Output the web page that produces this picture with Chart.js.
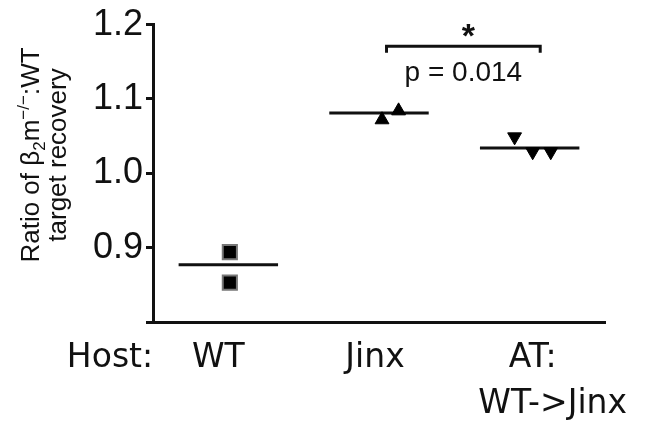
<!DOCTYPE html>
<html>
<head>
<meta charset="utf-8">
<script src="https://cdn.jsdelivr.net/npm/chart.js@4/dist/chart.umd.min.js"></script>
<style>
html, body { margin: 0; padding: 0; background: #fff; }
#wrap { width: 647px; height: 426px; }
</style>
</head>
<body>
<div id="wrap"><canvas id="chart"></canvas></div>
<script>
// data
var hostLabel = "Host:";
var categoryLabels = [["WT"], ["Jinx"], ["AT:", "WT->Jinx"]];
var categoryX = [1, 2, 3];

var wtX = [1.01, 1.01];
var wtValues = [0.894, 0.853];
var jinxX = [2.02, 2.13];
var jinxValues = [1.072, 1.084];
var atX = [2.9, 3.02, 3.14];
var atValues = [1.049, 1.029, 1.029];
var means = [0.877, 1.081, 1.034];

var yTicks = [0.8, 0.9, 1.0, 1.1, 1.2];
var titleParts = ["Ratio of \u03b2", "2", "m", "\u2212/\u2212", ":WT"];
var titleLine2 = "target recovery";

var bracketX = [2.05, 3.07];
var bracketY = [1.162, 1.171];
var starLabel = "*";
var pLabel = "p = 0.014";

var INK = "#111";
var meanHalf = 0.33;

function toPoints(xs, ys) {
    return xs.map(function (x, i) { return { x: x, y: ys[i] }; });
}

var meanSets = means.map(function (m, i) {
    return {
        type: "line",
        data: [{ x: categoryX[i] - meanHalf, y: m }, { x: categoryX[i] + meanHalf, y: m }],
        borderColor: INK,
        borderWidth: 3,
        pointRadius: 0,
        order: 2
    };
});

var bracketSet = {
    type: "line",
    data: [
        { x: bracketX[0], y: bracketY[0] },
        { x: bracketX[0], y: bracketY[1] },
        { x: bracketX[1], y: bracketY[1] },
        { x: bracketX[1], y: bracketY[0] }
    ],
    borderColor: INK,
    borderWidth: 3,
    pointRadius: 0
};

var textPlugin = {
    id: "figText",
    afterDraw: function (chart) {
        var ctx = chart.ctx;
        var xs = chart.scales.x;
        var ys = chart.scales.y;
        ctx.save();
        ctx.fillStyle = INK;

        // category labels under the x axis
        ctx.font = "33px 'DejaVu Sans'";
        ctx.textAlign = "center";
        ctx.textBaseline = "alphabetic";
        ctx.fillText(hostLabel, 110, 367);
        var shifts = [-10, -4, 3];
        categoryLabels.forEach(function (lines, i) {
            var px = xs.getPixelForValue(categoryX[i]) + shifts[i];
            lines.forEach(function (t, j) {
                var dx = (j === 1) ? 20 : 0;
                ctx.fillText(t, px + dx, 367 + j * 46);
            });
        });

        // significance bracket text
        var mid = (xs.getPixelForValue(bracketX[0]) + xs.getPixelForValue(bracketX[1])) / 2;
        ctx.font = "bold 34px Liberation Sans";
        ctx.fillText(starLabel, mid + 5, ys.getPixelForValue(bracketY[1]) + 1);
        ctx.font = "28px Liberation Sans";
        ctx.textBaseline = "middle";
        ctx.fillText(pLabel, mid, ys.getPixelForValue(bracketY[1]) + 27);

        // rotated y title with sub/superscript
        ctx.translate(0, 155);
        ctx.rotate(-Math.PI / 2);
        ctx.textBaseline = "alphabetic";
        ctx.textAlign = "left";
        var big = "26px Liberation Sans";
        var small = "17px Liberation Sans";
        var shiftY = [0, 6, 0, -10, 0];
        var fonts = [big, small, big, small, big];
        var total = 0;
        titleParts.forEach(function (t, i) { ctx.font = fonts[i]; total += ctx.measureText(t).width; });
        var cx = -total / 2;
        titleParts.forEach(function (t, i) {
            ctx.font = fonts[i];
            ctx.fillText(t, cx, 39 + shiftY[i]);
            cx += ctx.measureText(t).width;
        });
        ctx.font = big;
        ctx.textAlign = "center";
        ctx.fillText(titleLine2, 0, 66);
        ctx.restore();
    }
};

new Chart(document.getElementById("chart"), {
    type: "scatter",
    data: {
        datasets: [
            {
                data: toPoints(wtX, wtValues),
                pointStyle: "rect",
                pointRadius: 10,
                pointBackgroundColor: "#000",
                pointBorderColor: "#777",
                pointBorderWidth: 2,
                order: 1
            },
            {
                data: toPoints(jinxX, jinxValues),
                pointStyle: "triangle",
                pointRadius: 8,
                pointBackgroundColor: "#000",
                pointBorderColor: "#000",
                pointBorderWidth: 1,
                order: 1
            },
            {
                data: toPoints(atX, atValues),
                pointStyle: "triangle",
                rotation: 180,
                pointRadius: 8,
                pointBackgroundColor: "#000",
                pointBorderColor: "#000",
                pointBorderWidth: 1,
                order: 1
            }
        ].concat(meanSets, [bracketSet])
    },
    options: {
        responsive: true,
        maintainAspectRatio: false,
        animation: false,
        layout: { padding: { left: 0, right: 42, top: 17, bottom: 96 } },
        plugins: { legend: { display: false }, tooltip: { enabled: false } },
        scales: {
            x: {
                type: "linear",
                min: 0.5,
                max: 3.5,
                grid: { display: false },
                border: { display: true, color: INK, width: 3 },
                ticks: { display: false }
            },
            y: {
                min: 0.8,
                max: 1.2,
                afterFit: function (s) { s.width = 153; },
                afterBuildTicks: function (s) {
                    s.ticks = yTicks.map(function (v) { return { value: v }; });
                },
                grid: { drawOnChartArea: false, drawTicks: true, tickLength: 7, color: INK, lineWidth: 3 },
                border: { display: true, color: INK, width: 3 },
                ticks: {
                    color: INK,
                    padding: 3,
                    font: { family: "Liberation Sans", size: 36 },
                    callback: function (v) { return v <= 0.8 ? "" : v.toFixed(1); }
                }
            }
        }
    },
    plugins: [textPlugin]
});
</script>
</body>
</html>
